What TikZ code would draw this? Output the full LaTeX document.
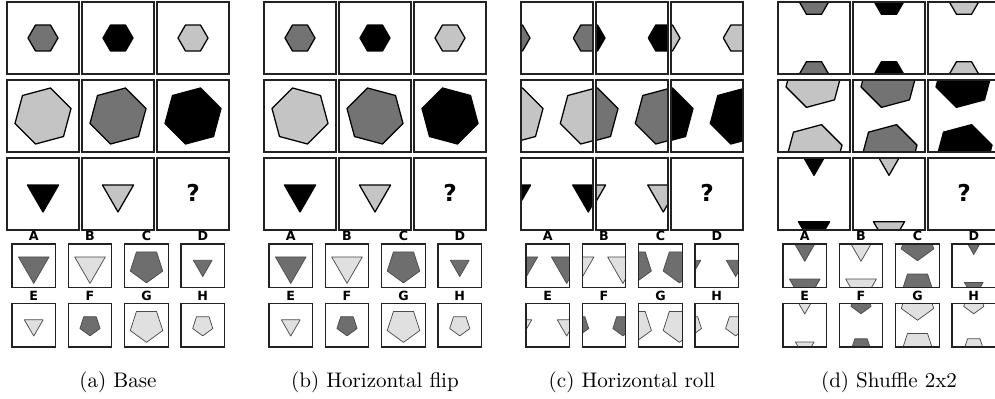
\documentclass[tikz,border=0pt]{standalone}
\usepackage{fontspec}
\newfontfamily\labfont{DejaVu Sans}
\definecolor{mdark}{HTML}{737373}
\definecolor{mlight}{HTML}{C4C4C4}
\definecolor{adark}{HTML}{6E6E6E}
\definecolor{alight}{HTML}{E0E0E0}
\definecolor{boxc}{HTML}{222222}
\tikzset{
  mshape/.style={draw=black, line width=0.6pt, line join=round},
  ashape/.style={draw=black!70, line width=0.35pt, line join=round},
  mbox/.style={draw=boxc, line width=0.65pt},
  abox/.style={draw=boxc, line width=0.5pt},
  lab/.style={font=\labfont\bfseries\fontsize{6}{6}\selectfont, anchor=base, inner sep=0pt},
  qmark/.style={font=\labfont\bfseries\fontsize{11}{12}\selectfont, anchor=base, inner sep=0pt},
  capt/.style={font=\fontsize{10}{12}\selectfont, anchor=base, inner sep=0pt},
}
% shapes in local coordinates (origin = box centre, y downwards)
\def\hexS{plot[samples at={0,...,5}] ({60*\x}:15) -- cycle}
\def\hexL{plot[samples at={0,...,5}] ({45+60*\x}:29) -- cycle}
\def\triM{plot[samples at={0,1,2}] ({90+120*\x}:18) -- cycle}
\def\triA{plot[samples at={0,1,2}] ({90+120*\x}:17.7) -- cycle}
\def\triS{plot[samples at={0,1,2}] ({90+120*\x}:10.8) -- cycle}
\def\penL{plot[samples at={0,...,4}] ({90+72*\x}:17.1) -- cycle}
\def\penS{plot[samples at={0,...,4}] ({90+72*\x}:10.6) -- cycle}
% #1 mode (0 base, 1 flip, 2 horizontal roll, 3 vertical roll)
% #2 x0, #3 y0, #4 size, #5 style, #6 shape, #7 box style
\newcommand\mcell[7]{%
  \pgfmathsetmacro\cX{#2+#4/2}%
  \pgfmathsetmacro\cY{#3+#4/2}%
  \pgfmathsetmacro\cP{1.018*#4}%
  \begin{scope}
    \clip (#2,#3) rectangle ++(#4,#4);
    \ifcase#1\relax
      \begin{scope}[shift={(\cX,\cY)}]\filldraw[#5] #6;\end{scope}
    \or
      \begin{scope}[shift={(\cX,\cY)},xscale=-1]\filldraw[#5] #6;\end{scope}
    \or
      \begin{scope}[shift={(\cX+0.427*\cP,\cY)}]\filldraw[#5] #6;\end{scope}
      \begin{scope}[shift={(\cX-0.573*\cP,\cY)}]\filldraw[#5] #6;\end{scope}
    \or
      \begin{scope}[shift={(\cX,\cY-0.5*\cP)}]\filldraw[#5] #6;\end{scope}
      \begin{scope}[shift={(\cX,\cY+0.5*\cP)}]\filldraw[#5] #6;\end{scope}
    \fi
  \end{scope}
  \draw[#7] (#2,#3) rectangle ++(#4,#4);
}
\begin{document}
\begin{tikzpicture}[x=0.4741pt,y=-0.4741pt]
\useasboundingbox (0,0) rectangle (995,398);
\foreach \p/\m/\cap in {0/0/{(a) Base},257/1/{(b) Horizontal flip},514/2/{(c) Horizontal roll},771/3/{(d) Shuffle 2x2}}{
  % matrix row 1
  \mcell{\m}{\p+7}{2}{72}{mshape,fill=mdark}{\hexS}{mbox}
  \mcell{\m}{\p+82}{2}{72}{mshape,fill=black}{\hexS}{mbox}
  \mcell{\m}{\p+157}{2}{72}{mshape,fill=mlight}{\hexS}{mbox}
  % matrix row 2
  \mcell{\m}{\p+7}{80}{72}{mshape,fill=mlight}{\hexL}{mbox}
  \mcell{\m}{\p+82}{80}{72}{mshape,fill=mdark}{\hexL}{mbox}
  \mcell{\m}{\p+157}{80}{72}{mshape,fill=black}{\hexL}{mbox}
  % matrix row 3
  \mcell{\m}{\p+7}{158}{72}{mshape,fill=black}{\triM}{mbox}
  \mcell{\m}{\p+82}{158}{72}{mshape,fill=mlight}{\triM}{mbox}
  \draw[mbox] (\p+157,158) rectangle ++(72,72);
  \node[qmark] (q\m) at (\p+193,201) {?};
  % answers
  \mcell{\m}{\p+12}{244}{43.5}{ashape,fill=adark}{\triA}{abox}
  \mcell{\m}{\p+68.25}{244}{43.5}{ashape,fill=alight}{\triA}{abox}
  \mcell{\m}{\p+124.75}{244}{43.5}{ashape,fill=adark}{\penL}{abox}
  \mcell{\m}{\p+181}{244}{43.5}{ashape,fill=adark}{\triS}{abox}
  \mcell{\m}{\p+12}{303.5}{43.5}{ashape,fill=alight}{\triS}{abox}
  \mcell{\m}{\p+68.25}{303.5}{43.5}{ashape,fill=adark}{\penS}{abox}
  \mcell{\m}{\p+124.75}{303.5}{43.5}{ashape,fill=alight}{\penL}{abox}
  \mcell{\m}{\p+181}{303.5}{43.5}{ashape,fill=alight}{\penS}{abox}
  \node[lab] (la\m) at (\p+33.75,240.9) {A};
  \node[lab] (lb\m) at (\p+90,240.9) {B};
  \node[lab] (lc\m) at (\p+146.5,240.9) {C};
  \node[lab] (ld\m) at (\p+202.75,240.9) {D};
  \node[lab] (le\m) at (\p+33.75,300.9) {E};
  \node[lab] (lf\m) at (\p+90,300.9) {F};
  \node[lab] (lg\m) at (\p+146.5,300.9) {G};
  \node[lab] (lh\m) at (\p+202.75,300.9) {H};
  \node[capt] (cap\m) at (\p+118,387.5) {\cap};
}
\end{tikzpicture}
\end{document}
